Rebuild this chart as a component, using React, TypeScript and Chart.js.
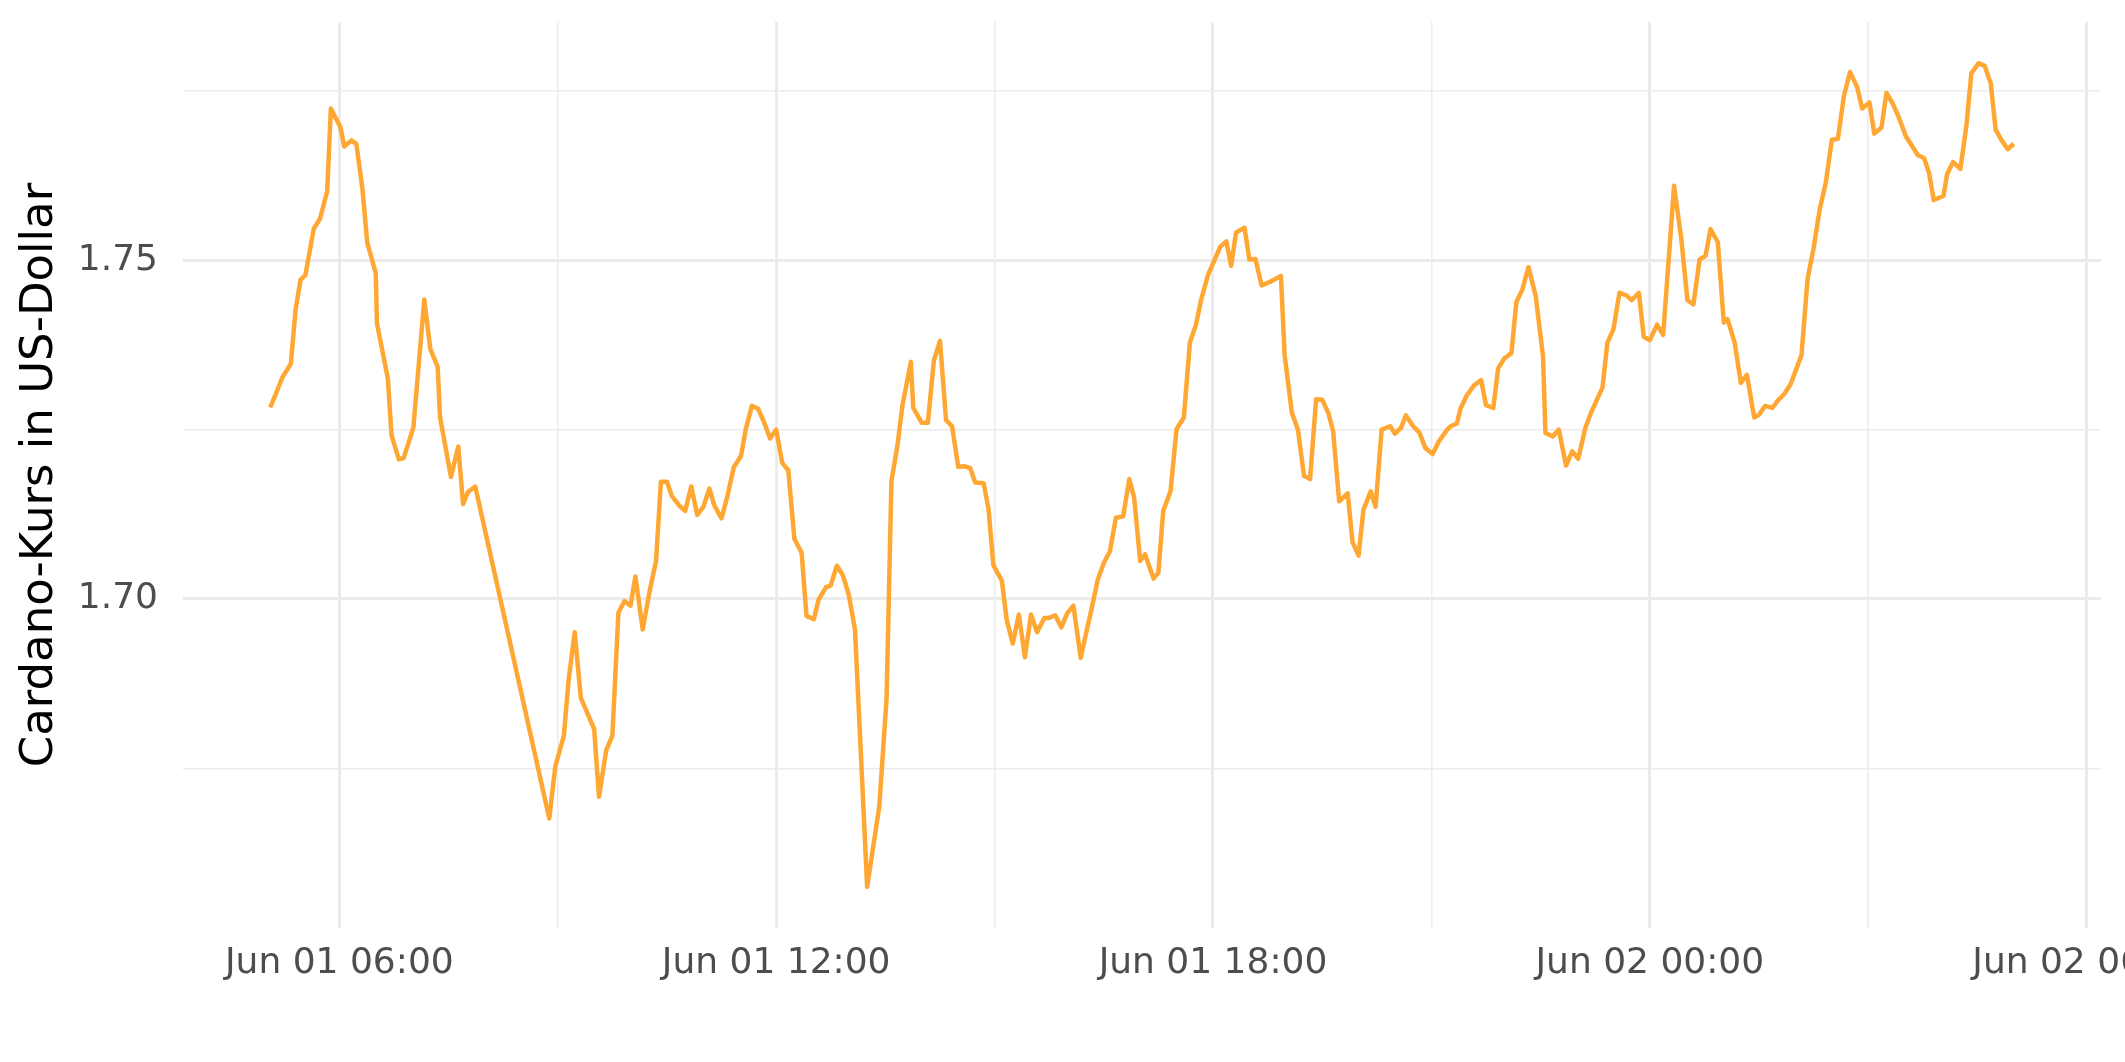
import React, { useEffect, useRef } from "react";
import { Chart, registerables } from "chart.js";

Chart.register(...registerables);

// minutes since Jun 01 00:00
const minutes = [
  303, 307, 313, 320, 324, 328, 332, 339, 344, 350, 353, 361, 364, 370, 374, 379, 383, 390, 391, 400,
  403, 409, 413, 421, 430, 435, 441, 443, 452, 458, 462, 466, 472, 533, 538, 545, 549, 554, 559, 570,
  574, 580, 585, 590, 595, 600, 604, 610, 616, 621, 625, 630, 634, 640, 645, 650, 655, 660, 665, 669,
  675, 680, 685, 691, 695, 700, 705, 710, 715, 720, 725, 730, 735, 741, 745, 751, 755, 761, 765, 770,
  775, 780, 785, 795, 805, 811, 815, 820, 824, 831, 833, 840, 845, 850, 855, 860, 865, 870, 875, 880,
  884, 891, 895, 899, 906, 910, 915, 920, 925, 930, 935, 941, 945, 950, 955, 960, 965, 971, 975, 980,
  985, 990, 995, 1000, 1006, 1011, 1015, 1020, 1024, 1031, 1035, 1039, 1045, 1050, 1056, 1061, 1066, 1070, 1076, 1081,
  1086, 1091, 1095, 1099, 1106, 1110, 1115, 1120, 1127, 1136, 1139, 1145, 1150, 1155, 1160, 1165, 1170, 1175, 1179, 1184,
  1191, 1195, 1200, 1204, 1210, 1214, 1219, 1226, 1230, 1235, 1239, 1245, 1250, 1255, 1261, 1266, 1273, 1276, 1281, 1284,
  1289, 1295, 1301, 1305, 1311, 1315, 1320, 1326, 1330, 1335, 1340, 1346, 1352, 1354, 1360, 1365, 1371, 1376, 1381, 1387,
  1392, 1401, 1405, 1410, 1415, 1421, 1425, 1431, 1435, 1440, 1446, 1451, 1460, 1466, 1471, 1476, 1481, 1486, 1490, 1496,
  1501, 1504, 1510, 1515, 1520, 1526, 1530, 1535, 1541, 1546, 1551, 1556, 1560, 1565, 1570, 1575, 1580, 1585, 1590, 1595,
  1600, 1605, 1611, 1615, 1621, 1625, 1631, 1635, 1640, 1645, 1651, 1656, 1661, 1666, 1670, 1674, 1682, 1685, 1690, 1696,
  1701, 1705, 1711, 1716, 1721, 1725, 1730, 1735, 1740,
];

const prices = [
  1.7283, 1.73, 1.7327, 1.7347, 1.7428, 1.7471, 1.7478, 1.7547, 1.7561, 1.7602, 1.7724, 1.7696, 1.7668, 1.7677, 1.7672, 1.7606, 1.7526, 1.7481, 1.7407, 1.7325,
  1.7242, 1.7206, 1.7208, 1.7253, 1.7442, 1.7369, 1.7343, 1.7268, 1.718, 1.7225, 1.714, 1.7158, 1.7166, 1.6676, 1.6753, 1.6798, 1.6881, 1.6951, 1.6854, 1.6808,
  1.6708, 1.6777, 1.6798, 1.698, 1.6997, 1.699, 1.7033, 1.6955, 1.7014, 1.7056, 1.7173, 1.7173, 1.7152, 1.7138, 1.713, 1.7166, 1.7124, 1.7136, 1.7163, 1.7138,
  1.7119, 1.7153, 1.7194, 1.7211, 1.7251, 1.7285, 1.7281, 1.7261, 1.7237, 1.725, 1.7201, 1.719, 1.7089, 1.7068, 1.6975, 1.697, 1.6999, 1.7017, 1.702, 1.7049,
  1.7035, 1.7005, 1.6954, 1.6575, 1.6694, 1.6853, 1.7174, 1.7227, 1.7285, 1.735, 1.7282, 1.726, 1.726, 1.7352, 1.7381, 1.7264, 1.7255, 1.7195, 1.7196, 1.7193,
  1.7172, 1.7171, 1.7133, 1.705, 1.7027, 1.6969, 1.6934, 1.6977, 1.6914, 1.6977, 1.6951, 1.6972, 1.6972, 1.6976, 1.6958, 1.6979, 1.699, 1.6913, 1.6946, 1.6986,
  1.7028, 1.7053, 1.707, 1.712, 1.7122, 1.7177, 1.715, 1.7056, 1.7066, 1.703, 1.7039, 1.713, 1.7159, 1.7251, 1.7268, 1.7379, 1.7405, 1.744, 1.7479, 1.7499,
  1.752, 1.7528, 1.7492, 1.7541, 1.7548, 1.7501, 1.7502, 1.7463, 1.7468, 1.7477, 1.7361, 1.7275, 1.725, 1.7182, 1.7177, 1.7295, 1.7294, 1.7275, 1.7248, 1.7144,
  1.7156, 1.7084, 1.7064, 1.7132, 1.7159, 1.7136, 1.725, 1.7255, 1.7244, 1.7253, 1.7271, 1.7255, 1.7246, 1.7223, 1.7214, 1.7232, 1.725, 1.7255, 1.7259, 1.7281,
  1.73, 1.7315, 1.7323, 1.7286, 1.7282, 1.734, 1.7355, 1.7363, 1.7438, 1.7457, 1.749, 1.7447, 1.7358, 1.7245, 1.724, 1.725, 1.7197, 1.7218, 1.7207, 1.7253,
  1.7277, 1.7312, 1.7378, 1.7398, 1.7452, 1.7448, 1.7441, 1.7452, 1.7387, 1.7382, 1.7405, 1.739, 1.761, 1.7531, 1.7441, 1.7435, 1.7501, 1.7507, 1.7546, 1.7527,
  1.7408, 1.7413, 1.7378, 1.7319, 1.7331, 1.7268, 1.7272, 1.7285, 1.7282, 1.7294, 1.7303, 1.7317, 1.7336, 1.736, 1.7472, 1.7518, 1.7575, 1.7614, 1.7678, 1.7679,
  1.7743, 1.7778, 1.7755, 1.7724, 1.7733, 1.7687, 1.7696, 1.7747, 1.7732, 1.7712, 1.7683, 1.7669, 1.7655, 1.7651, 1.763, 1.7589, 1.7595, 1.7627, 1.7645, 1.7635,
  1.77, 1.7776, 1.7791, 1.7787, 1.7761, 1.7693, 1.7677, 1.7664, 1.7672,
];

const xTickValues = [360, 540, 720, 900, 1080, 1260, 1440, 1620, 1800];
const xTickLabels = ["Jun 01 06:00", "", "Jun 01 12:00", "", "Jun 01 18:00", "", "Jun 02 00:00", "", "Jun 02 06:00"];
const yTickValues = [1.675, 1.7, 1.725, 1.75, 1.775];
const yTickLabels = ["", "1.70", "", "1.75", ""];
const yTitle = "Cardano-Kurs in US-Dollar";

export default function App() {
  const ref = useRef<HTMLCanvasElement | null>(null);

  useEffect(() => {
    if (!ref.current) return;
    const dMin = Math.min(...minutes);
    const dMax = Math.max(...minutes);
    const xr = dMax - dMin;
    const pMin = Math.min(...prices);
    const pMax = Math.max(...prices);
    const yr = pMax - pMin;
    const font = "DejaVu Sans";

    const chart = new Chart(ref.current, {
      type: "line",
      data: {
        datasets: [
          {
            data: minutes.map((m, i) => ({ x: m, y: prices[i] })),
            borderColor: "rgb(255,167,51)",
            borderWidth: 4.5,
            pointRadius: 0,
            tension: 0,
            borderJoinStyle: "round",
            fill: false,
          },
        ],
      },
      options: {
        animation: false,
        responsive: false,
        devicePixelRatio: 1,
        layout: { padding: { top: 22, right: 24, left: 0, bottom: 0 } },
        plugins: { legend: { display: false }, tooltip: { enabled: false } },
        scales: {
          x: {
            type: "linear",
            min: dMin - 0.05 * xr,
            max: dMax + 0.05 * xr,
            afterBuildTicks: (s: any) => {
              s.ticks = xTickValues.map((v) => ({ value: v }));
            },
            afterFit: (s: any) => {
              s.height = 134;
              s.paddingLeft = 0;
              s.paddingRight = 0;
            },
            border: { display: false },
            grid: {
              color: "#EBEBEB",
              drawTicks: false,
              lineWidth: (ctx: any) => (xTickLabels[ctx.index] ? 3 : 1.5),
            },
            ticks: {
              autoSkip: false,
              maxRotation: 0,
              padding: 14,
              color: "#4D4D4D",
              font: { family: font, size: 36 },
              callback: (_v: any, i: number) => xTickLabels[i],
            },
          },
          y: {
            type: "linear",
            min: pMin - 0.05 * yr,
            max: pMax + 0.05 * yr,
            afterBuildTicks: (s: any) => {
              s.ticks = yTickValues.map((v) => ({ value: v }));
            },
            afterFit: (s: any) => {
              s.width = 183;
              s.paddingTop = 0;
              s.paddingBottom = 0;
            },
            border: { display: false },
            grid: {
              color: "#EBEBEB",
              drawTicks: false,
              lineWidth: (ctx: any) => (yTickLabels[ctx.index] ? 3 : 1.5),
            },
            ticks: {
              padding: 25,
              color: "#4D4D4D",
              font: { family: font, size: 36 },
              callback: (_v: any, i: number) => yTickLabels[i],
            },
            title: {
              display: true,
              text: yTitle,
              color: "#000000",
              font: { family: font, size: 45 },
              padding: { top: 13, bottom: 0 },
            },
          },
        },
      },
    });
    return () => chart.destroy();
  }, []);

  return (
    <div style={{ position: "fixed", left: 0, top: 0, width: 2125, height: 1062, background: "#fff" }}>
      <canvas ref={ref} width={2125} height={1062} style={{ display: "block" }} />
    </div>
  );
}
